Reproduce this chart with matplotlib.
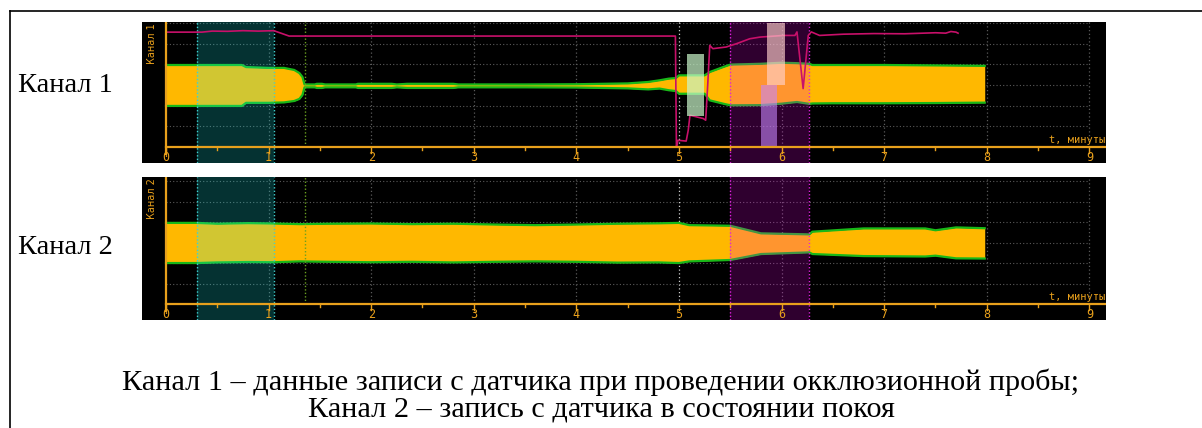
import matplotlib.pyplot as plt
from matplotlib.patches import Rectangle

# time axis, minutes
ticks = [0, 1, 2, 3, 4, 5, 6, 7, 8, 9]

# channel 1 envelope
t1 = [0, 0.3, 0.74, 0.78, 1.0, 1.15, 1.25, 1.3, 1.33, 1.35, 1.45, 1.47, 1.52, 1.55,
      1.85, 1.87, 2.2, 2.25, 2.35, 2.8, 2.85, 3.5, 4.0, 4.5, 4.7, 4.81, 4.9, 4.97,
      5.0, 5.25, 5.3, 5.43, 5.5, 5.8, 6.0, 6.15, 6.27, 6.3, 6.5, 7.0, 7.5, 7.98]
top1 = [3.96, 3.96, 3.96, 3.86, 3.82, 3.82, 3.72, 3.57, 3.38, 3.02, 3.02, 3.05, 3.05, 3.02,
        3.02, 3.05, 3.05, 3.02, 3.05, 3.05, 3.02, 3.02, 3.03, 3.07, 3.14, 3.22, 3.30, 3.33,
        3.46, 3.46, 3.62, 3.86, 3.98, 4.02, 4.07, 4.05, 4.02, 3.96, 3.96, 3.96, 3.94, 3.92]
bot1 = [1.98, 1.98, 1.98, 2.13, 2.13, 2.15, 2.22, 2.32, 2.51, 2.88, 2.88, 2.85, 2.85, 2.88,
        2.88, 2.85, 2.85, 2.88, 2.85, 2.85, 2.88, 2.88, 2.87, 2.83, 2.78, 2.82, 2.74, 2.70,
        2.57, 2.57, 2.25, 2.09, 2.01, 2.02, 2.09, 2.17, 2.08, 2.1, 2.11, 2.11, 2.12, 2.14]

# channel 1 pulse trace
pulse_t = [0, 0.35, 0.45, 0.6, 0.75, 0.9, 1.05, 1.12, 1.2, 2.0, 3.0, 4.0, 4.965, 4.975,
           4.99, 5.07, 5.09, 5.107, 5.237, 5.26, 5.28, 5.30, 5.33, 5.46, 5.56, 5.69, 5.79,
           6.02, 6.13, 6.15, 6.21, 6.26, 6.29, 6.37, 6.6, 6.9, 7.2, 7.5, 7.6, 7.65, 7.7, 7.72]
pulse_v = [5.55, 5.55, 5.6, 5.59, 5.62, 5.6, 5.62, 5.5, 5.36, 5.36, 5.36, 5.36, 5.36, 0.0,
           0.32, 0.28, 0.8, 1.53, 1.37, 1.29, 3.0, 4.91, 4.75, 4.83, 4.99, 5.23, 5.31,
           5.39, 5.39, 5.56, 2.82, 5.39, 5.56, 5.39, 5.45, 5.48, 5.47, 5.52, 5.5, 5.58, 5.55, 5.5]

# channel 2 envelope
t2 = [0, 0.3, 0.5, 0.8, 1.05, 1.3, 1.6, 2.0, 2.4, 2.8, 3.2, 3.6, 4.0, 4.4, 4.8, 5.0,
      5.1, 5.5, 5.8, 6.27, 6.3, 6.8, 7.4, 7.5, 7.7, 7.98]
top2 = [3.96, 3.96, 3.92, 3.95, 3.93, 3.90, 3.92, 3.93, 3.90, 3.92, 3.88, 3.85, 3.88, 3.92,
        3.94, 3.96, 3.85, 3.82, 3.45, 3.40, 3.53, 3.69, 3.69, 3.60, 3.74, 3.70]
bot2 = [2.00, 2.00, 2.03, 2.05, 2.04, 2.08, 2.06, 2.04, 2.06, 2.03, 2.06, 2.08, 2.06, 2.02,
        2.03, 2.00, 2.08, 2.15, 2.44, 2.52, 2.44, 2.34, 2.32, 2.36, 2.23, 2.22]

# marked intervals (minutes)
rest_zone = (0.3, 1.05)
occl_zone = (5.5, 6.27)
green_mark = 1.35
start_mark = 5.0

# channel 1 markers: (t0, t1, v0, v1)
mark_green = (5.08, 5.245, 1.48, 4.48)
mark_pink = (5.86, 6.03, 2.98, 6.0)
mark_violet = (5.80, 5.96, 0.0, 2.98)

ORANGE = '#e8a01c'
FILL = '#ffb800'
EDGE = '#18b818'

fig = plt.figure(figsize=(12.02, 4.28), dpi=100)


def panel(rect, t, top, bot, ymax, name):
    ax = fig.add_axes(rect)
    ax.set_facecolor('black')
    ax.set_xlim(-0.234, 9.162)
    ax.set_ylim(-0.78, ymax)
    ax.set_xticks([])
    ax.set_yticks([])
    for s in ax.spines.values():
        s.set_visible(False)
    # grid
    for v in range(1, 7):
        ax.plot([0, 9], [v, v], ls=(0, (1, 2)), color='#5a5a5a', lw=0.8, zorder=1)
    for x in ticks[1:]:
        c = '#d0d0d0' if x == start_mark else '#5a5a5a'
        ax.plot([x, x], [0, 6.1], ls=(0, (1, 2)), color=c, lw=0.9, zorder=1)
    ax.fill_between(t, bot, top, color=FILL, lw=0, zorder=2)
    ax.plot(t, top, color=EDGE, lw=1.6, zorder=3)
    ax.plot(t, bot, color=EDGE, lw=1.6, zorder=3)
    # zones
    ax.axvspan(*rest_zone, color=(0.1, 1, 1), alpha=0.2, lw=0, zorder=4)
    ax.axvspan(*occl_zone, color=(1, 0, 1), alpha=0.19, lw=0, zorder=4)
    for x in rest_zone:
        ax.axvline(x, ls=(0, (1, 1.5)), color='#40d0d0', lw=1, zorder=5)
    for x in occl_zone:
        ax.axvline(x, ls=(0, (1, 1.5)), color='#e020e0', lw=1, zorder=5)
    ax.plot([green_mark, green_mark], [0, 6.2], ls=(0, (1, 1.5)), color='#6aa020', lw=1, zorder=5)
    # axes lines
    ax.plot([0, 9.162], [0, 0], color=ORANGE, lw=1.6, zorder=7)
    ax.plot([0, 0], [-0.35, 6.2], color=ORANGE, lw=1.6, zorder=7)
    for x in ticks:
        ax.plot([x, x], [0, -0.3], color=ORANGE, lw=1, zorder=7)
        ax.text(x, -0.5, str(x), color=ORANGE, fontsize=8.5, ha='center', va='center',
                family='DejaVu Sans Mono', zorder=8)
    for x in ticks[:-1]:
        ax.plot([x + 0.5, x + 0.5], [0, -0.15], color=ORANGE, lw=1, zorder=7)
    ax.text(9.15, 0.08, 't, минуты', color=ORANGE, fontsize=7.5, ha='right', va='bottom',
            family='DejaVu Sans Mono', zorder=8)
    ax.text(-0.14, ymax - 0.05, name, color=ORANGE, fontsize=7, rotation=90,
            ha='center', va='top', zorder=8)
    return ax


ax1 = panel([142 / 1202, 1 - 163 / 428, 964 / 1202, 141 / 428], t1, top1, bot1, 6.04, 'Канал 1')
ax1.plot(pulse_t, pulse_v, color='#c8106a', lw=1.2, zorder=6)
for (a, b, v0, v1), col, al in [(mark_green, (0.79, 0.97, 0.79), 0.71),
                                (mark_pink, (1, 0.82, 0.8), 0.65),
                                (mark_violet, (0.78, 0.53, 0.99), 0.59)]:
    ax1.add_patch(Rectangle((a, v0), b - a, v1 - v0, color=col, alpha=al, lw=0, zorder=6.5))

ax2 = panel([142 / 1202, 1 - 320 / 428, 964 / 1202, 143 / 428], t2, top2, bot2, 6.2, 'Канал 2')

# frame and labels
fig.add_artist(plt.Line2D([10 / 1202, 10 / 1202], [0, 1 - 11 / 428], color='black', lw=1.2))
fig.add_artist(plt.Line2D([10 / 1202, 1], [1 - 11 / 428, 1 - 11 / 428], color='black', lw=1.2))

serif = 'Liberation Serif'
fig.text(18 / 1202, 1 - 86 / 428, 'Канал 1', fontsize=20.5, family=serif, va='center')
fig.text(18 / 1202, 1 - 247 / 428, 'Канал 2', fontsize=20.5, family=serif, va='center')
fig.text(601 / 1202, 1 - 382 / 428,
         'Канал 1 – данные записи с датчика при проведении окклюзионной пробы;',
         fontsize=21.8, family=serif, ha='center', va='center')
fig.text(601 / 1202, 1 - 409 / 428, 'Канал 2 – запись с датчика в состоянии покоя',
         fontsize=21.8, family=serif, ha='center', va='center')

fig.savefig('out.png', dpi=100)
